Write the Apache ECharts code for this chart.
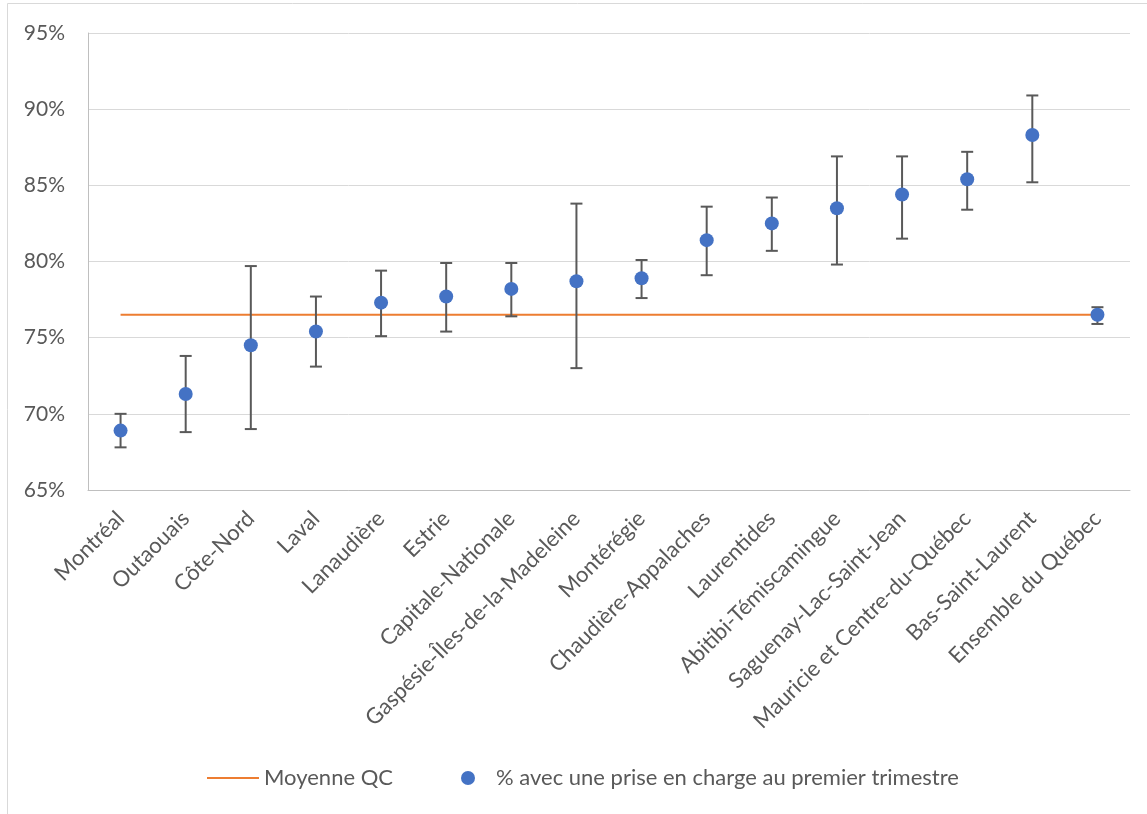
<!DOCTYPE html>
<html><head><meta charset="utf-8">
<script src="https://cdn.jsdelivr.net/npm/echarts@6/dist/echarts.min.js"></script>
<style>html,body{margin:0;padding:0;background:#fff}#c{width:1147px;height:814px}</style>
</head><body><div id="c"></div>
<script>
const categories = ['Montréal','Outaouais','Côte-Nord','Laval','Lanaudière','Estrie','Capitale-Nationale','Gaspésie-Îles-de-la-Madeleine','Montérégie','Chaudière-Appalaches','Laurentides','Abitibi-Témiscamingue','Saguenay-Lac-Saint-Jean','Mauricie et Centre-du-Québec','Bas-Saint-Laurent','Ensemble du Québec'];
const values = [68.9, 71.3, 74.5, 75.4, 77.3, 77.7, 78.2, 78.7, 78.9, 81.4, 82.5, 83.5, 84.4, 85.4, 88.3, 76.5];
const lower = [67.8, 68.8, 69.0, 73.1, 75.1, 75.4, 76.4, 73.0, 77.6, 79.1, 80.7, 79.8, 81.5, 83.4, 85.2, 75.9];
const upper = [70.0, 73.8, 79.7, 77.7, 79.4, 79.9, 79.9, 83.8, 80.1, 83.6, 84.2, 86.9, 86.9, 87.2, 90.9, 77.0];
const moyenneQC = 76.5;
const yTicks = {min: 65, max: 95, interval: 5};

const avgData = categories.map(() => moyenneQC);
const errData = categories.map((c, i) => [i, lower[i], upper[i]]);
const font = 'Lato';
const chart = echarts.init(document.getElementById('c'));
chart.setOption({
  animation: false,
  graphic: [{type:'rect', shape:{x:7.5,y:3.5,width:1200,height:900}, style:{fill:'none', stroke:'#d9d9d9', lineWidth:1}, silent:true}],
  grid: {left: 88, right: 17, top: 33, bottom: 324, containLabel: false},
  xAxis: {
    type: 'category', data: categories, boundaryGap: true,
    axisLine: {lineStyle: {color: '#bfbfbf', width: 1}},
    axisTick: {show: false},
    axisLabel: {rotate: 45, interval: 0, color: '#595959', fontFamily: font, fontSize: 22, margin: 25}
  },
  yAxis: {
    type: 'value', min: yTicks.min, max: yTicks.max, interval: yTicks.interval,
    axisLine: {show: true, lineStyle: {color: '#bfbfbf', width: 1}},
    axisTick: {show: false},
    splitLine: {lineStyle: {color: '#d9d9d9', width: 1}},
    axisLabel: {formatter: '{value}%', color: '#595959', fontFamily: font, fontSize: 21, margin: 23}
  },
  legend: [
    {data: [{name: 'Moyenne QC', icon: 'rect'}], left: 202, top: 762, itemWidth: 52, itemHeight: 2,
     textStyle: {color: '#595959', fontFamily: font, fontSize: 22}},
    {data: [{name: '% avec une prise en charge au premier trimestre', icon: 'circle'}], left: 456, top: 762, itemWidth: 46, itemHeight: 14,
     textStyle: {color: '#595959', fontFamily: font, fontSize: 22}}
  ],
  series: [
    {name: 'Moyenne QC', type: 'line', data: avgData, symbol: 'none', showSymbol: false,
     lineStyle: {color: '#ed7d31', width: 2}, itemStyle: {color: '#ed7d31'}, z: 2},
    {name: 'errors', type: 'custom', data: errData, z: 3,
     renderItem: function (params, api) {
       const x = api.value(0);
       const lo = api.coord([x, api.value(1)]);
       const hi = api.coord([x, api.value(2)]);
       const hw = 6;
       const st = {stroke: '#595959', lineWidth: 2};
       return {type: 'group', children: [
         {type: 'line', shape: {x1: lo[0], y1: lo[1], x2: hi[0], y2: hi[1]}, style: st},
         {type: 'line', shape: {x1: lo[0]-hw, y1: lo[1], x2: lo[0]+hw, y2: lo[1]}, style: st},
         {type: 'line', shape: {x1: hi[0]-hw, y1: hi[1], x2: hi[0]+hw, y2: hi[1]}, style: st}
       ]};
     }},
    {name: '% avec une prise en charge au premier trimestre', type: 'scatter', data: values, symbol: 'circle', symbolSize: 14,
     itemStyle: {color: '#4472c4', opacity: 1}, z: 4}
  ]
});
</script></body></html>
